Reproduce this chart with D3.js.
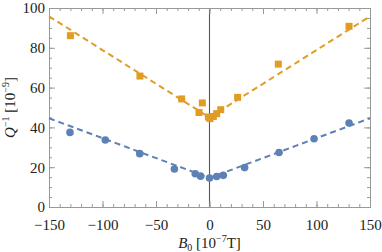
<!DOCTYPE html>
<html>
<head>
<meta charset="utf-8">
<script src="https://cdn.jsdelivr.net/npm/d3@7"></script>
<style>
  body { margin: 0; background: #fff; }
  svg { display: block; font-family: "Liberation Serif", "DejaVu Serif", serif; }
</style>
</head>
<body>
<div id="chart"></div>
<script>
// orange squares
const orangeX = [-130, -65, -26, -9.8, -6.7, -1, 0.5, 3.6, 6.7, 10.5, 26.3, 64.3, 130.4];
const orangeY = [86.1, 65.8, 54.3, 47.5, 52.3, 45.2, 44.4, 45.5, 46.9, 48.9, 55.1, 71.8, 90.8];
// blue circles
const blueX = [-130.4, -97.4, -65.2, -32.8, -13.3, -8.3, 0, 6.7, 12.9, 32.8, 65, 97.7, 130.4];
const blueY = [37.5, 33.7, 26.8, 19.1, 16.7, 15.5, 14.6, 15.3, 15.9, 19.8, 27.4, 34.3, 42.2];
// dashed fit lines (read at the frame edges and the vertex)
const fitX = [-150, 0, 150];
const orangeFit = [95.8, 45, 95.8];
const blueFit = [44.6, 14.6, 44.6];

const xTicks = [-150, -100, -50, 0, 50, 100, 150];
const yTicks = [0, 20, 40, 60, 80, 100];

const orange = "#e19c24";
const blue = "#5e81b5";

function drawChart() {
    const W = 382, H = 252;
    const margin = { top: 8, right: 12, bottom: 45, left: 49 };
    const width = W - margin.left - margin.right;
    const height = H - margin.top - margin.bottom;

    const svg = d3.select("#chart").append("svg")
        .attr("width", W).attr("height", H);
    const chart = svg.append("g")
        .attr("transform", `translate(${margin.left},${margin.top})`);

    const x = d3.scaleLinear().domain([-150, 150]).range([0, width]);
    const y = d3.scaleLinear().domain([0, 100]).range([height, 0]);

    // zero line
    chart.append("line")
        .attr("x1", x(0)).attr("x2", x(0))
        .attr("y1", 0).attr("y2", height)
        .attr("stroke", "#555").attr("stroke-width", 1.1);

    // frame with inward ticks
    const frameColor = "#999";
    const xMinor = d3.range(-150, 151, 10);
    const yMinor = d3.range(0, 101, 5);

    const bottom = chart.append("g").attr("transform", `translate(0,${height})`);
    bottom.call(d3.axisBottom(x).tickValues(xMinor).tickSizeInner(-3).tickSizeOuter(0).tickFormat(""));
    bottom.append("g").call(d3.axisBottom(x).tickValues(xTicks).tickSizeInner(-6).tickSizeOuter(0)
        .tickPadding(12).tickFormat(d => d < 0 ? "\u2212" + Math.abs(d) : d));

    const top = chart.append("g");
    top.call(d3.axisTop(x).tickValues(xMinor).tickSizeInner(-3).tickSizeOuter(0).tickFormat(""));
    top.append("g").call(d3.axisTop(x).tickValues(xTicks).tickSizeInner(-6).tickSizeOuter(0).tickFormat(""));

    const left = chart.append("g");
    left.call(d3.axisLeft(y).tickValues(yMinor).tickSizeInner(-3).tickSizeOuter(0).tickFormat(""));
    left.append("g").call(d3.axisLeft(y).tickValues(yTicks).tickSizeInner(-6).tickSizeOuter(0)
        .tickPadding(4));

    const right = chart.append("g").attr("transform", `translate(${width},0)`);
    right.call(d3.axisRight(y).tickValues(yMinor).tickSizeInner(-3).tickSizeOuter(0).tickFormat(""));
    right.append("g").call(d3.axisRight(y).tickValues(yTicks).tickSizeInner(-6).tickSizeOuter(0).tickFormat(""));

    chart.selectAll(".domain").attr("stroke", frameColor);
    chart.selectAll(".tick line").attr("stroke", frameColor);
    chart.selectAll(".tick text")
        .attr("fill", "#222")
        .style("font-size", "15px")
        .style("font-family", "'Liberation Serif', serif");

    // fit lines
    const line = d3.line().x(d => x(d[0])).y(d => y(d[1]));
    chart.append("path")
        .attr("d", line(fitX.map((v, i) => [v, blueFit[i]])))
        .attr("fill", "none").attr("stroke", blue)
        .attr("stroke-width", 2).attr("stroke-dasharray", "6,4");
    chart.append("path")
        .attr("d", line(fitX.map((v, i) => [v, orangeFit[i]])))
        .attr("fill", "none").attr("stroke", orange)
        .attr("stroke-width", 2).attr("stroke-dasharray", "6,4");

    // points
    const s = 7;
    chart.selectAll(".sq")
        .data(orangeX.map((v, i) => [v, orangeY[i]]))
        .enter().append("rect")
        .attr("x", d => x(d[0]) - s / 2)
        .attr("y", d => y(d[1]) - s / 2)
        .attr("width", s).attr("height", s)
        .attr("fill", orange);

    chart.selectAll(".dot")
        .data(blueX.map((v, i) => [v, blueY[i]]))
        .enter().append("circle")
        .attr("cx", d => x(d[0]))
        .attr("cy", d => y(d[1]))
        .attr("r", 3.8)
        .attr("fill", blue);

    // axis titles
    const xt = svg.append("text")
        .attr("x", margin.left + width / 2)
        .attr("y", 248)
        .attr("text-anchor", "middle")
        .style("font-size", "15px")
        .attr("fill", "#222");
    xt.append("tspan").style("font-style", "italic").text("B");
    xt.append("tspan").attr("dy", 3).style("font-size", "10px").text("0");
    xt.append("tspan").attr("dy", -3).text(" [10");
    xt.append("tspan").attr("dy", -6).style("font-size", "10px").text("\u22127");
    xt.append("tspan").attr("dy", 6).text("T]");

    const yt = svg.append("text")
        .attr("transform", `translate(15,${margin.top + height / 2}) rotate(-90)`)
        .attr("text-anchor", "middle")
        .style("font-size", "15px")
        .attr("fill", "#222");
    yt.append("tspan").style("font-style", "italic").text("Q");
    yt.append("tspan").attr("dy", -6).style("font-size", "10px").text("\u22121");
    yt.append("tspan").attr("dy", 6).text(" [10");
    yt.append("tspan").attr("dy", -6).style("font-size", "10px").text("\u22129");
    yt.append("tspan").attr("dy", 6).text("]");
}

window.addEventListener("load", drawChart);
</script>
</body>
</html>
